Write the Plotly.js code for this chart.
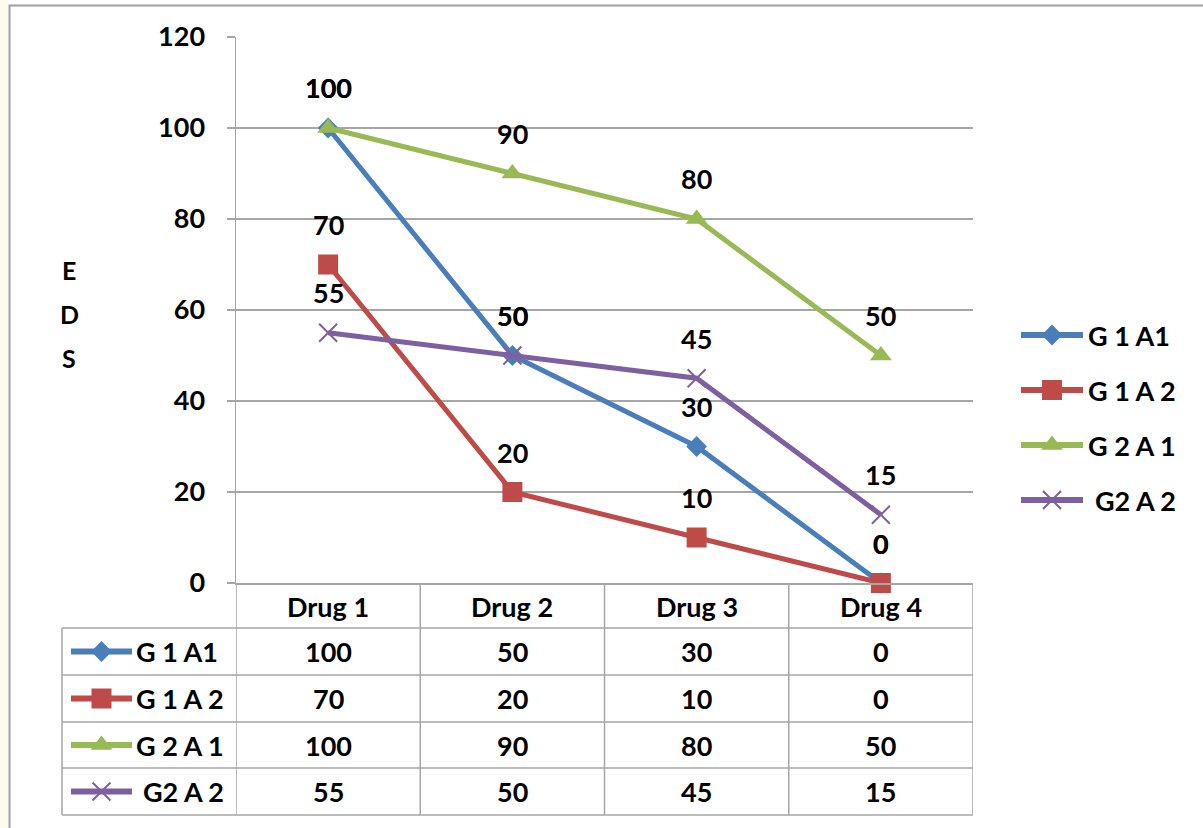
<!DOCTYPE html>
<html>
<head>
<meta charset="utf-8">
<script src="https://cdn.plot.ly/plotly-3.0.1.min.js"></script>
<style>
  html, body { margin: 0; padding: 0; background: #ffffff; }
  #chart { width: 1203px; height: 828px; }
</style>
</head>
<body>
<div id="chart"></div>
<script>
// ---- data ----
const categories = ['Drug 1', 'Drug 2', 'Drug 3', 'Drug 4'];
const seriesNames = ['G 1 A1', 'G 1 A 2', 'G 2 A 1', ' G2 A 2'];
const g1a1 = [100, 50, 30, 0];
const g1a2 = [70, 20, 10, 0];
const g2a1 = [100, 90, 80, 50];
const g2a2 = [55, 50, 45, 15];
const yTickVals = [0, 20, 40, 60, 80, 100, 120];
const axisTitleLetters = ['E', 'D', 'S'];

const seriesValues = [g1a1, g1a2, g2a1, g2a2];

// ---- styling ----
const W = 1203, H = 828;
const FONT = 'Lato, "Open Sans", sans-serif';
const FS = 27;
const TXT = '#000000';
const GRID = '#a6a6a6';
const colors = ['#4a7ebb', '#be4b48', '#98b954', '#7d60a0'];
const symbols = ['diamond', 'square', 'triangle-up', 'x-thin-open'];
const markerSizes = [16, 20, 19, 18];

const px = x => x / W;          // page pixel -> paper x
const py = y => 1 - y / H;      // page pixel -> paper y
const boldFont = size => ({ family: FONT, size: size, color: TXT, weight: 'bold' });

function markerStyle(i) {
  const m = { symbol: symbols[i], size: markerSizes[i], color: colors[i] };
  if (symbols[i] === 'x-thin-open') m.line = { color: colors[i], width: 2 };
  else m.line = { width: 0 };
  return m;
}

// plot area in page pixels
const plotL = 236, plotR = 973, plotT = 37, plotB = 583;
// data table rows
const headerMid = 606;
const rowEdges = [628, 675, 722, 768, 815];
const tableLeft = 62;
// right-hand legend rows
const legendRows = [335, 390, 445, 500];

const traces = [];
const annotations = [];
const shapes = [];

// series lines
seriesValues.forEach((vals, i) => {
  traces.push({
    type: 'scatter', mode: 'lines+markers',
    name: seriesNames[i],
    x: categories, y: vals,
    line: { color: colors[i], width: 5 },
    marker: markerStyle(i),
    cliponaxis: false,
    showlegend: false,
    hoverinfo: 'x+y+name'
  });
  // value labels above each point
  vals.forEach((v, j) => {
    annotations.push({
      x: categories[j], y: v, xref: 'x', yref: 'y',
      text: String(v), showarrow: false, yshift: 40,
      xanchor: 'center', yanchor: 'middle',
      font: boldFont(FS)
    });
  });
});

// legend keys: short line + marker, drawn in page pixels on an overlay axis pair
function legendKey(i, x0, x1, yc, textX) {
  shapes.push({
    type: 'line', xref: 'paper', yref: 'paper',
    x0: px(x0), x1: px(x1), y0: py(yc), y1: py(yc),
    line: { color: colors[i], width: 6 }, layer: 'above'
  });
  traces.push({
    type: 'scatter', mode: 'markers', xaxis: 'x2', yaxis: 'y2',
    x: [(x0 + x1) / 2], y: [yc], marker: markerStyle(i),
    showlegend: false, hoverinfo: 'skip', cliponaxis: false
  });
  annotations.push({
    xref: 'paper', yref: 'paper', x: px(textX), y: py(yc),
    xanchor: 'left', yanchor: 'middle', text: seriesNames[i].trim(),
    showarrow: false,
    xshift: seriesNames[i].startsWith(' ') ? 7 : 0,
    font: boldFont(FS)
  });
}

seriesNames.forEach((_, i) => legendKey(i, 1021, 1083, legendRows[i], 1086));

// data table
categories.forEach((c, j) => {
  annotations.push({
    x: c, xref: 'x', yref: 'paper', y: py(headerMid), showarrow: false,
    xanchor: 'center', yanchor: 'middle',
    text: c, font: boldFont(FS)
  });
});
seriesValues.forEach((vals, i) => {
  const yc = (rowEdges[i] + rowEdges[i + 1]) / 2;
  legendKey(i, 71, 132, yc, 134);
  vals.forEach((v, j) => {
    annotations.push({
      x: categories[j], xref: 'x', yref: 'paper', y: py(yc), showarrow: false,
      xanchor: 'center', yanchor: 'middle',
      text: String(v), font: boldFont(FS)
    });
  });
});
// table grid: column separators at category boundaries
for (let k = 0; k <= categories.length; k++) {
  shapes.push({
    type: 'line', xref: 'x', yref: 'paper',
    x0: k - 0.5, x1: k - 0.5, y0: py(plotB), y1: py(rowEdges[rowEdges.length - 1]),
    line: { color: GRID, width: 1.5 }, layer: 'below'
  });
}
rowEdges.forEach(y => {
  shapes.push({
    type: 'line', xref: 'paper', yref: 'paper',
    x0: px(tableLeft), x1: px(plotR), y0: py(y), y1: py(y),
    line: { color: GRID, width: 1.5 }, layer: 'below'
  });
});
shapes.push({
  type: 'line', xref: 'paper', yref: 'paper',
  x0: px(tableLeft), x1: px(tableLeft), y0: py(rowEdges[0]), y1: py(rowEdges[rowEdges.length - 1]),
  line: { color: GRID, width: 1.5 }, layer: 'below'
});

// stacked axis title letters
axisTitleLetters.forEach((ch, k) => {
  annotations.push({
    xref: 'paper', yref: 'paper', x: px(69), y: py(270 + k * 44),
    xanchor: 'center', yanchor: 'middle',
    text: ch, showarrow: false,
    font: boldFont(25)
  });
});

// outer frame and left edge tint
shapes.push({
  type: 'rect', xref: 'paper', yref: 'paper',
  x0: 0, x1: px(8), y0: 0, y1: 1,
  fillcolor: '#fffbec', line: { width: 0 }, layer: 'below'
});
shapes.push({
  type: 'rect', xref: 'paper', yref: 'paper',
  x0: px(9.5), x1: 1.02, y0: -0.02, y1: py(5.5),
  fillcolor: 'rgba(0,0,0,0)', line: { color: '#a0a0a0', width: 2 }, layer: 'below'
});

const layout = {
  width: W, height: H,
  margin: { l: 0, r: 0, t: 0, b: 0 },
  paper_bgcolor: '#ffffff', plot_bgcolor: 'rgba(0,0,0,0)',
  showlegend: false,
  font: { family: FONT, color: TXT },
  xaxis: {
    type: 'category', domain: [px(plotL), px(plotR)],
    range: [-0.5, categories.length - 0.5],
    showticklabels: false, ticks: '', showgrid: false, zeroline: false,
    showline: true, linecolor: GRID, linewidth: 1.5, fixedrange: true
  },
  yaxis: {
    domain: [py(plotB), py(plotT)], range: [0, 120],
    tickvals: yTickVals, ticktext: yTickVals.map(String),
    ticks: 'outside', ticklen: 8, tickcolor: GRID, tickwidth: 1.5,
    showgrid: true, gridcolor: GRID, gridwidth: 1.2,
    showline: true, linecolor: GRID, linewidth: 1.5, zeroline: false,
    ticklabelstandoff: 16,
    tickfont: boldFont(FS),
    fixedrange: true
  },
  xaxis2: { domain: [0, 1], anchor: 'y2', range: [0, W], visible: false, fixedrange: true },
  yaxis2: { domain: [0, 1], anchor: 'x2', range: [H, 0], visible: false, fixedrange: true },
  shapes: shapes,
  annotations: annotations
};

Plotly.newPlot('chart', traces, layout, { displayModeBar: false, staticPlot: true });
</script>
</body>
</html>
